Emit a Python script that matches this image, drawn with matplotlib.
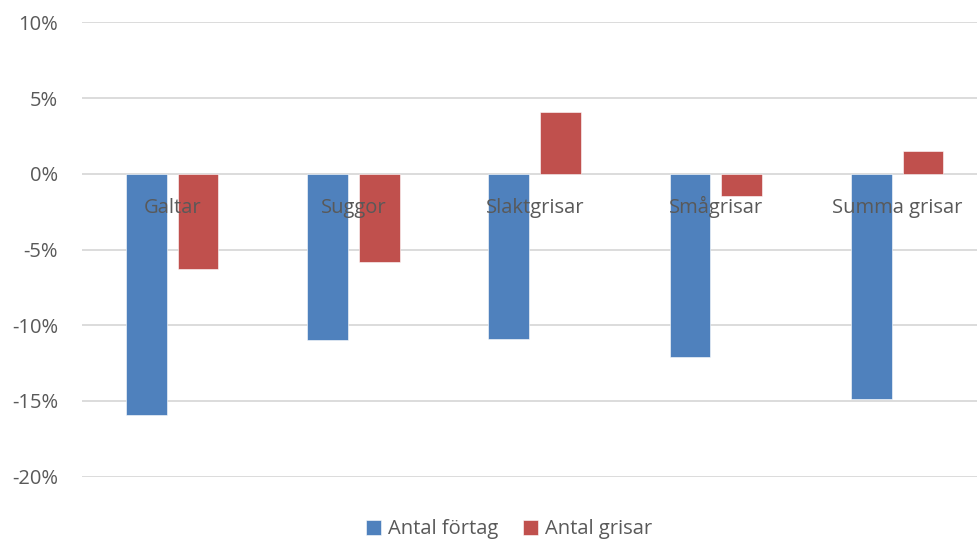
import numpy as np
import matplotlib
matplotlib.use("Agg")
import matplotlib.pyplot as plt
from matplotlib.ticker import FuncFormatter
from matplotlib.transforms import offset_copy

# data
kategorier = ["Galtar", "Suggor", "Slaktgrisar", "Smågrisar", "Summa grisar"]
antal_fortag = [-15.9, -11.0, -10.9, -12.1, -14.9]
antal_grisar = [-6.3, -5.8, 4.1, -1.45, 1.5]
serier = ["Antal förtag", "Antal grisar"]

blue = "#4F81BD"
red = "#C0504D"
txt = "#595959"

plt.rcParams["font.family"] = ["Open Sans", "DejaVu Sans"]

fig = plt.figure(figsize=(9.78, 5.45), dpi=100)
ax = fig.add_axes([0.0835, 0.1253, 0.9265, 0.8338])

x = np.arange(len(kategorier))
w = 0.2245
ax.bar(x - 0.143, antal_fortag, w, color=blue, edgecolor="white", linewidth=0.4,
       label=serier[0], zorder=2)
ax.bar(x + 0.142, antal_grisar, w, color=red, edgecolor="white", linewidth=0.4,
       label=serier[1], zorder=2)

ax.set_xlim(-0.5, 4.5)
ax.set_ylim(-20, 10)
ax.set_yticks(np.arange(-20, 11, 5))
ax.yaxis.set_major_formatter(FuncFormatter(lambda v, p: f"{v:.0f}%"))
ax.grid(axis="y", color="#D9D9D9", linewidth=1.3, zorder=0)
ax.set_axisbelow(True)
for s in ax.spines.values():
    s.set_visible(False)
ax.tick_params(axis="y", length=0, pad=17, labelsize=14.5, labelcolor=txt)
ax.set_xticks([])

# kategori-etiketter vid nollinjen, ovanpå staplarna
trans = offset_copy(ax.transData, fig=fig, x=0, y=-28, units="points")
for i, k in enumerate(kategorier):
    ax.text(x[i], 0, k, transform=trans, ha="center", va="baseline",
            fontsize=14.5, color=txt, zorder=5)

leg = fig.legend(loc="center", bbox_to_anchor=(0.5205, 0.029), ncol=2,
                 frameon=False, fontsize=14.5, handlelength=0.75,
                 handleheight=0.75, handletextpad=0.35, columnspacing=1.2)
for t in leg.get_texts():
    t.set_color(txt)

fig.savefig("out.png", dpi=100)
